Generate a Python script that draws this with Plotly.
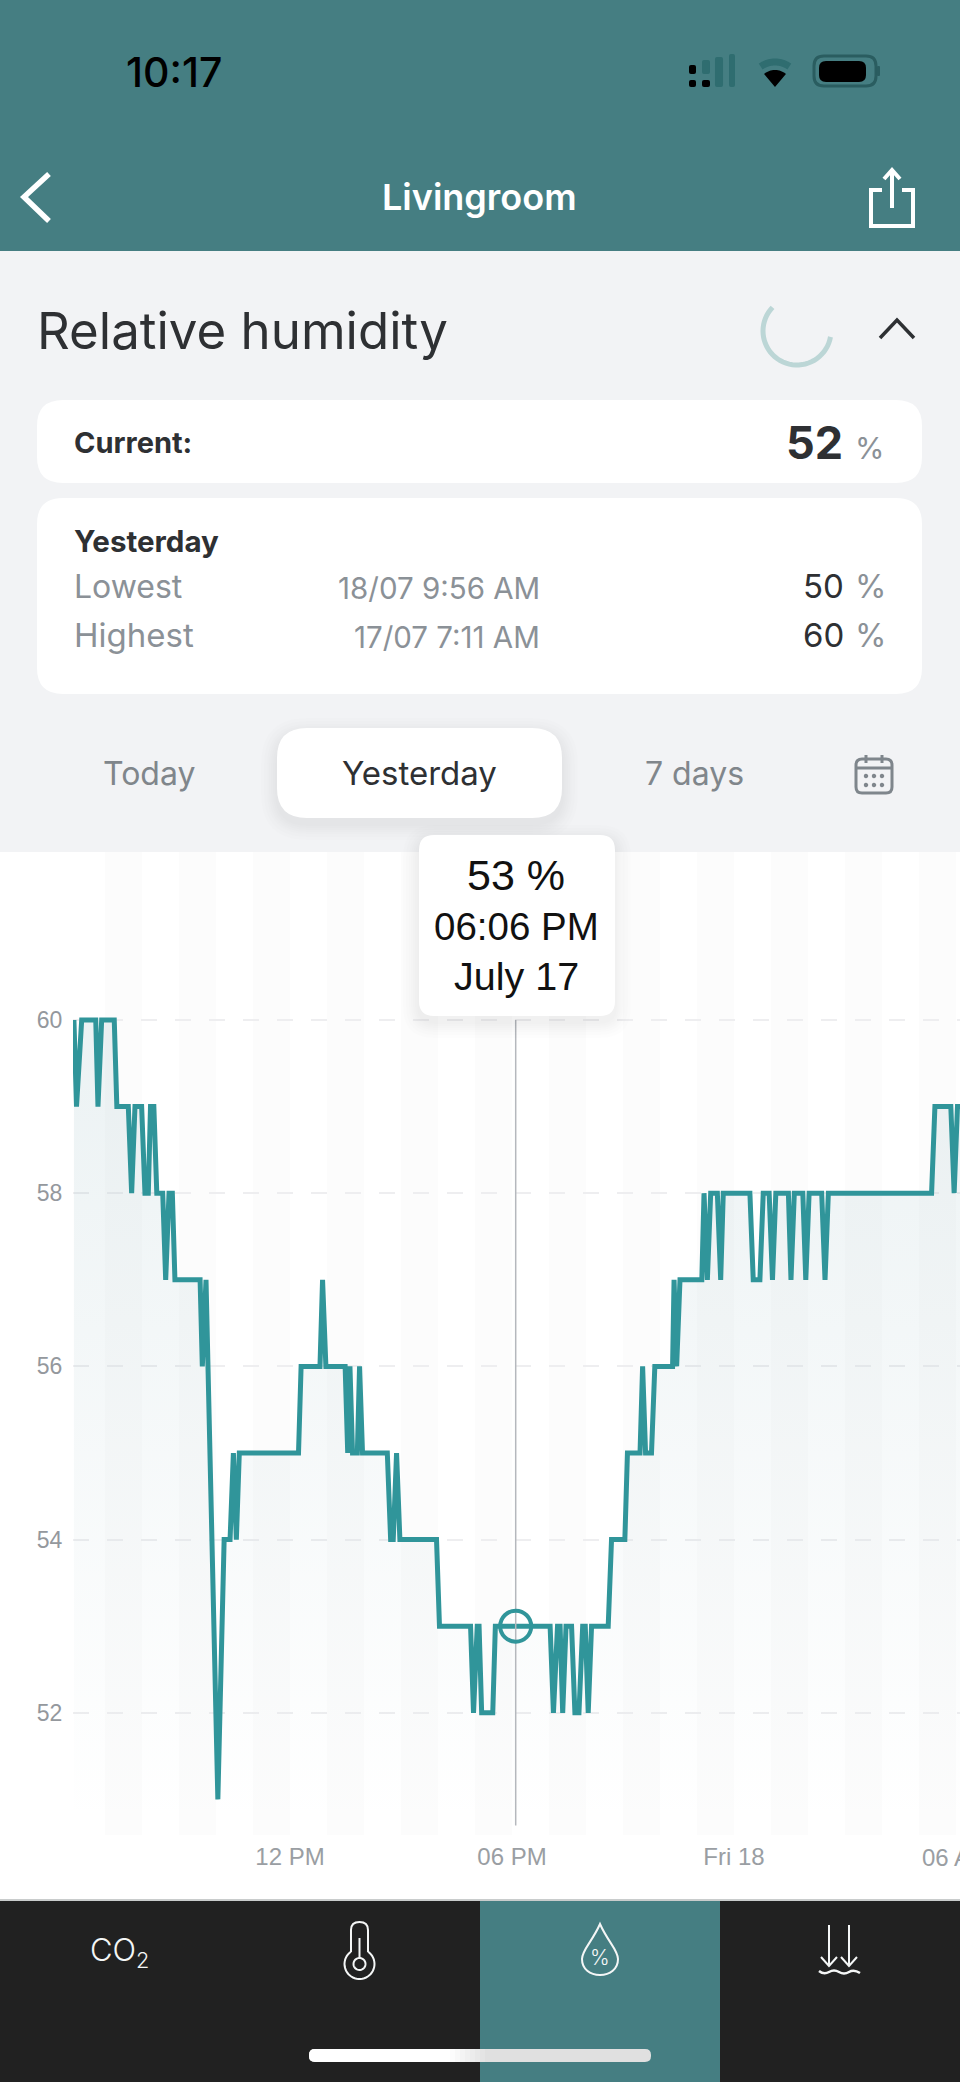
import re

import numpy as np
import plotly.graph_objects as go

WIDTH = 960
HEIGHT = 2082

# humidity reading, hour counted from midnight July 17
HOURS = [
    6.16, 6.23, 6.37, 6.75, 6.81, 6.91, 7.25, 7.32, 7.63, 7.72, 7.81, 7.99, 8.08, 8.17, 8.23,
    8.32, 8.40, 8.56, 8.64, 8.73, 8.82, 8.89, 9.57, 9.63, 9.73, 10.05, 10.22, 10.38, 10.47,
    10.55, 10.63, 12.23, 12.30, 12.81, 12.88, 12.97, 13.49, 13.56, 13.62, 13.69, 13.82, 13.88,
    13.96, 14.63, 14.72, 14.79, 14.88, 14.97, 15.96, 16.04, 16.88, 16.96, 17.06, 17.11, 17.18,
    17.48, 17.55, 19.03, 19.12, 19.23, 19.30, 19.37, 19.46, 19.61, 19.70, 19.81, 19.91, 19.98,
    20.06, 20.15, 20.60, 20.69, 21.05, 21.12, 21.46, 21.53, 21.61, 21.77, 21.86, 22.34, 22.38,
    22.45, 22.54, 23.13, 23.19, 23.28, 23.37, 23.55, 23.64, 23.71, 24.43, 24.52, 24.70, 24.79,
    24.95, 25.04, 25.13, 25.47, 25.54, 25.63, 25.86, 25.94, 26.03, 26.37, 26.46, 26.55, 29.34,
    29.43, 29.86, 29.95, 30.04, 30.11,
]
HUMIDITY = [
    60, 59, 60, 60, 59, 60, 60, 59, 59, 58, 59, 59, 58, 58, 59,
    59, 58, 58, 57, 58, 58, 57, 57, 56, 57, 51, 54, 54, 55,
    54, 55, 55, 56, 56, 57, 56, 56, 55, 56, 55, 55, 56,
    55, 55, 54, 54, 55, 54, 54, 53, 53, 52, 53, 53, 52,
    52, 53, 53, 52, 53, 53, 52, 53, 53, 52, 52, 53, 53,
    52, 53, 53, 54, 54, 55, 55, 56, 55, 55, 56, 56, 57,
    56, 57, 57, 58, 57, 58, 58, 57, 58, 58, 57, 57, 58,
    58, 57, 58, 58, 57, 58, 58, 57, 58, 58, 57, 58, 58,
    59, 59, 58, 59, 59,
]
CURSOR_HOUR = 18.1
CURSOR_VALUE = 53

X_TICKS = [12, 18, 24]
X_LABELS = ["12 PM", "06 PM", "Fri 18"]
# this tick label runs off the phone screen, so it is drawn clipped at the edge
LAST_TICK_LABEL = "06 AM"
Y_TICKS = [52, 54, 56, 58, 60]
BAND_HOURS = [7, 9, 11, 13, 15, 17, 19, 21, 23, 25, 27, 29]

TEAL = "#457e82"
LINE = "#30959a"
DARK = "#2e3033"
GREY = "#8b9197"
AXIS_GREY = "#9a9ea3"
UI_FONT = "Inter"
CHART_FONT = "Liberation Sans"

shapes = []
annotations = []


def fx(x):
    return x / WIDTH


def fy(y):
    return 1 - y / HEIGHT


def px_path(d):
    """Turn a path written in screen pixels into paper coordinates."""
    tokens = re.findall(r"[MLCQZ]|-?[\d.]+", d)
    out = []
    is_x = True
    for tok in tokens:
        if tok.isalpha():
            out.append(tok)
        else:
            out.append(f"{fx(float(tok)):.5f}" if is_x else f"{fy(float(tok)):.5f}")
            is_x = not is_x
    return " ".join(out)


def add_path(d, fill=None, line=None, width=0, layer="below"):
    shapes.append(dict(
        type="path",
        xref="paper",
        yref="paper",
        path=px_path(d),
        fillcolor=fill if fill else "rgba(0,0,0,0)",
        line=dict(color=line if line else "rgba(0,0,0,0)", width=width),
        layer=layer,
    ))


def round_rect(x0, y0, x1, y1, r):
    return (
        f"M {x0 + r} {y0} L {x1 - r} {y0} Q {x1} {y0} {x1} {y0 + r} "
        f"L {x1} {y1 - r} Q {x1} {y1} {x1 - r} {y1} L {x0 + r} {y1} "
        f"Q {x0} {y1} {x0} {y1 - r} L {x0} {y0 + r} Q {x0} {y0} {x0 + r} {y0} Z"
    )


def arc(cx, cy, r, a0, a1, close=False):
    angles = np.radians(np.linspace(a0, a1, 40))
    pts = [f"{cx + r * np.cos(a):.2f} {cy + r * np.sin(a):.2f}" for a in angles]
    return "M " + " L ".join(pts) + (" Z" if close else "")


def add_rect(x0, y0, x1, y1, fill, r=0, layer="below"):
    add_path(round_rect(x0, y0, x1, y1, r) if r else f"M {x0} {y0} L {x1} {y0} L {x1} {y1} L {x0} {y1} Z",
             fill=fill, layer=layer)


def add_shadow(x0, y0, x1, y1, r, layer="below"):
    for grow in [16, 13, 10, 8, 6, 4, 2]:
        add_rect(x0 - grow, y0 - grow + 6, x1 + grow, y1 + grow + 6, "rgba(0,0,0,0.009)", r + grow, layer)


def add_text(text, x, y, size, color=DARK, anchor="center", weight=400, family=UI_FONT, **kwargs):
    annotations.append(dict(
        text=text,
        x=fx(x),
        y=fy(y),
        xref="paper",
        yref="paper",
        xanchor=anchor,
        yanchor="middle",
        showarrow=False,
        font=dict(size=size, color=color, family=family, weight=weight),
        **kwargs,
    ))


def draw_frame():
    add_rect(0, 0, WIDTH, HEIGHT, "#f2f3f5")
    add_rect(0, 0, WIDTH, 251, TEAL)
    add_rect(0, 852, WIDTH, 1901, "#ffffff")
    add_rect(0, 1901, WIDTH, HEIGHT, "#212121")
    add_rect(480, 1901, 720, HEIGHT, TEAL)
    add_rect(0, 1899, WIDTH, 1901, "#c9cccc")

    # home indicator, white fading to light grey
    add_rect(309, 2049, 651, 2062, "#e0e0e0", 6)
    add_rect(309, 2049, 460, 2062, "#ffffff", 6)
    for i in range(9):
        level = 255 - i * 31 // 8
        add_rect(445 + i * 5, 2049, 450 + i * 5, 2062, f"rgb({level},{level},{level})")

    # cards and tabs
    add_rect(37, 400, 922, 483, "#ffffff", 26)
    add_rect(37, 498, 922, 694, "#ffffff", 26)
    add_shadow(277, 728, 562, 818, 30)
    add_rect(277, 728, 562, 818, "#ffffff", 30)

    for hour in BAND_HOURS:
        shapes.append(dict(
            type="rect", xref="x", yref="paper",
            x0=hour, x1=hour + 1, y0=fy(1835), y1=fy(852),
            fillcolor="#fcfcfc", line=dict(width=0), layer="below",
        ))


def draw_status_bar():
    add_text("10:17", 174, 72, 41, "#000000", weight=500)
    on, off = "#000000", "#2f6d70"
    add_rect(689, 80, 696, 87, on, 2)
    add_rect(689, 65, 696, 74, on, 2)
    add_rect(702, 80, 710, 87, on, 2)
    add_rect(702, 60, 710, 74, off, 2)
    add_rect(715, 57, 723, 87, off, 2)
    add_rect(729, 54, 735, 87, off, 2)
    add_path(arc(775, 87, 25, -125, -55), line=off, width=7)
    add_path(arc(775, 87, 17, -130, -50) + " L 775 87 Z", fill=on)
    add_path(round_rect(814, 56, 876, 86, 10), line="#2a5d60", width=3)
    add_rect(819, 61, 866, 82, on, 7)
    add_rect(877, 66, 880, 76, "#2a5d60", 1)


def draw_header():
    add_text("Livingroom", 479, 197, 36, "#ffffff", weight=600)
    add_path("M 49 174 L 24 197 L 49 221", line="#ffffff", width=5.5)
    add_path("M 882 190 L 871 190 L 871 226 L 913 226 L 913 190 L 902 190", line="#ffffff", width=4)
    add_path("M 892 208 L 892 171", line="#ffffff", width=4)
    add_path("M 884 179 L 892 170 L 900 179", line="#ffffff", width=4)

    add_text("Relative humidity", 35, 330, 51, anchor="left")
    add_path(arc(797, 331, 34, 10, 224), line="#bcd6d6", width=5)
    add_path("M 880 338 L 897 320 L 914 338", line=DARK, width=3.5)


def draw_cards():
    add_text("Current:", 72, 442, 29, anchor="left", weight=700)
    add_text("52", 845, 442, 45, anchor="right", weight=700)
    add_text("%", 886, 448, 30, GREY, anchor="right")

    add_text("Yesterday", 72, 541, 29.5, anchor="left", weight=700)
    add_text("Lowest", 72, 586, 32, GREY, anchor="left")
    add_text("Highest", 72, 635, 33, GREY, anchor="left")
    add_text("18/07 9:56 AM", 542, 588, 29.5, GREY, anchor="right")
    add_text("17/07 7:11 AM", 542, 637, 29.5, GREY, anchor="right")
    add_text("50", 846, 586, 33, anchor="right")
    add_text("60", 846, 635, 33, anchor="right")
    add_text("%", 888, 586, 32, GREY, anchor="right")
    add_text("%", 888, 635, 32, GREY, anchor="right")

    add_text("Today", 149, 773, 32, "#80868b")
    add_text("Yesterday", 419, 773, 33)
    add_text("7 days", 694, 773, 32, "#80868b")

    # calendar icon
    cal = "#7f868c"
    add_path(round_rect(856, 759, 892, 793, 6), line=cal, width=3)
    add_path("M 856 768 L 892 768", line=cal, width=3)
    add_path("M 866 755 L 866 763", line=cal, width=3)
    add_path("M 882 755 L 882 763", line=cal, width=3)
    for dy in [776, 785]:
        for dx in [866, 874, 882]:
            add_path(arc(dx, dy, 2.2, 0, 360, close=True), fill=cal)


def draw_tab_bar():
    white = "#f4f6f6"
    add_text("CO<sub>2</sub>", 119, 1952, 31, white, weight=300)

    add_path(
        "M 351 1952 L 351 1930 Q 351 1922 359.5 1922 Q 368 1922 368 1930 L 368 1952 "
        + arc(359.5, 1964, 15, -55, 235).replace("M", "L"),
        line=white, width=2,
    )
    add_path(arc(359.5, 1964, 6, 0, 360, close=True), line=white, width=2)
    add_path("M 359.5 1938 L 359.5 1958", line=white, width=2)

    add_path(
        "M 600 1924 C 592 1942 582 1950 582 1959 C 582 1969 590 1975 600 1975 "
        "C 610 1975 618 1969 618 1959 C 618 1950 608 1942 600 1924 Z",
        line=white, width=2,
    )
    add_text("%", 600, 1957, 21, white, weight=300)

    for x in [829, 849]:
        add_path(f"M {x} 1925 L {x} 1966", line=white, width=2)
        add_path(f"M {x - 8} 1957 L {x} 1966 L {x + 8} 1957", line=white, width=2)
    add_path(
        "M 819 1971 Q 824 1975 829 1972 Q 834 1969 839 1972 Q 844 1975 849 1972 Q 854 1969 860 1973",
        line=white, width=2.5,
    )


def draw_tooltip():
    add_shadow(419, 835, 615, 1016, 15, layer="above")
    add_rect(419, 835, 615, 1016, "#ffffff", 15, layer="above")
    add_text(f"{CURSOR_VALUE} %", 516, 875, 43, "#111111", family=CHART_FONT)
    add_text("06:06 PM", 516, 927, 38.5, "#111111", family=CHART_FONT)
    add_text("July 17", 516, 976, 39.5, "#111111", family=CHART_FONT)


draw_frame()
draw_status_bar()
draw_header()
draw_cards()
draw_tab_bar()

fig = go.Figure()
fig.add_trace(go.Scatter(
    x=HOURS,
    y=HUMIDITY,
    mode="lines",
    fill="tozeroy",
    fillgradient=dict(
        type="vertical",
        start=60,
        stop=50.7,
        colorscale=[[0, "rgba(60,125,140,0.10)"], [1, "rgba(60,125,140,0)"]],
    ),
    line=dict(color=LINE, width=5, shape="linear"),
    hoverinfo="skip",
))
fig.add_trace(go.Scatter(
    x=[CURSOR_HOUR, CURSOR_HOUR],
    y=[50.7, 60],
    mode="lines",
    line=dict(color="#b5b8bd", width=1.5),
    hoverinfo="skip",
))
fig.add_trace(go.Scatter(
    x=[CURSOR_HOUR],
    y=[CURSOR_VALUE],
    mode="markers",
    marker=dict(size=31, color="rgba(0,0,0,0)", line=dict(color=LINE, width=4)),
    hoverinfo="skip",
))

draw_tooltip()
add_text(LAST_TICK_LABEL, 920, 1857, 24, AXIS_GREY, anchor="left", family=CHART_FONT, width=40, align="left")

fig.update_layout(
    width=WIDTH,
    height=HEIGHT,
    margin=dict(l=0, r=0, t=0, b=0),
    paper_bgcolor="#ffffff",
    plot_bgcolor="rgba(0,0,0,0)",
    showlegend=False,
    shapes=shapes,
    annotations=annotations,
    xaxis=dict(
        domain=[fx(73), 1],
        range=[6.135, 30.108],
        tickmode="array",
        tickvals=X_TICKS,
        ticktext=X_LABELS,
        showgrid=False,
        zeroline=False,
        showline=False,
        ticks="outside",
        ticklen=0,
        tickcolor="rgba(0,0,0,0)",
        tickfont=dict(size=24, color=AXIS_GREY, family=CHART_FONT),
    ),
    yaxis=dict(
        domain=[fy(1835), fy(852)],
        range=[50.589, 61.94],
        tickmode="array",
        tickvals=Y_TICKS,
        showgrid=True,
        griddash="16px,18px",
        gridcolor="#eeeef0",
        gridwidth=2,
        zeroline=False,
        showline=False,
        ticks="outside",
        ticklen=5,
        tickcolor="rgba(0,0,0,0)",
        tickfont=dict(size=23, color="#94989d", family=CHART_FONT),
    ),
)

fig.write_html(
    "out.html",
    config={"displayModeBar": False},
    post_script="document.body.style.margin = '0';",
)
